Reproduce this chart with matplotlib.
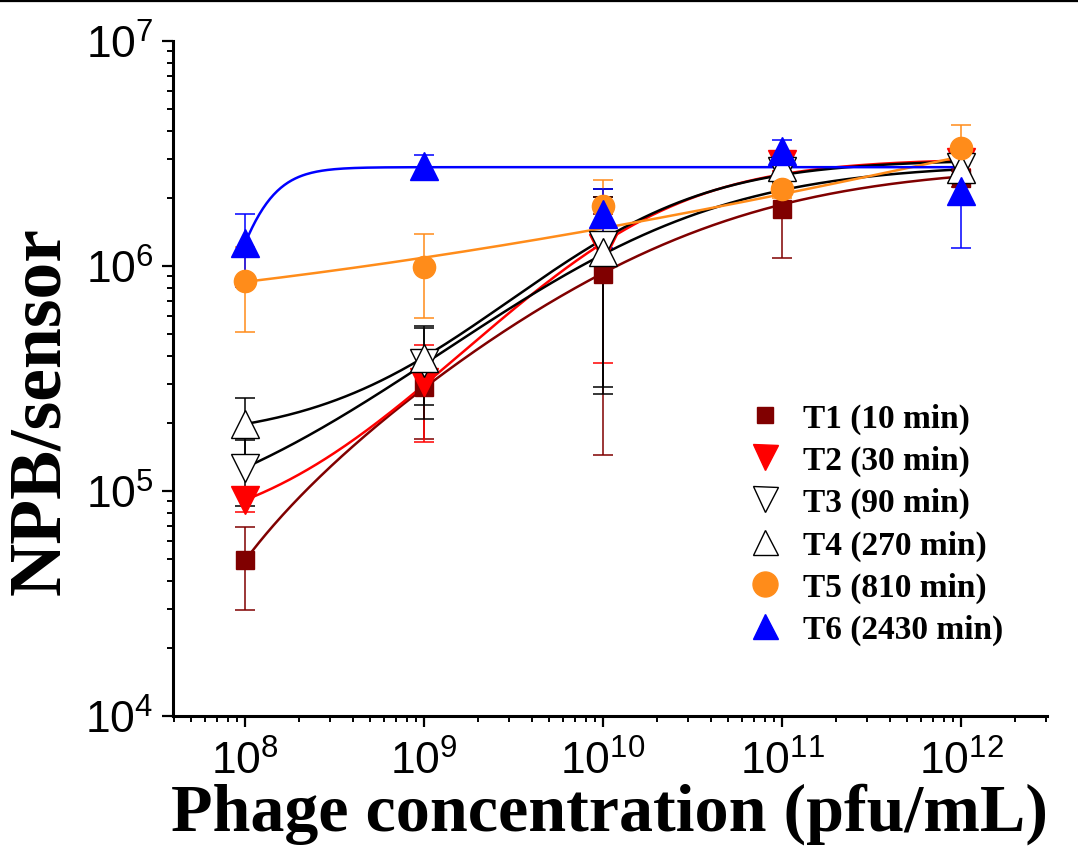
import numpy as np
import matplotlib
matplotlib.use("Agg")
import matplotlib.pyplot as plt
from matplotlib.lines import Line2D
from matplotlib.ticker import LogLocator, FuncFormatter, NullFormatter

# phage concentrations (pfu/mL)
conc = [1e8, 1e9, 1e10, 1e11, 1e12]

# NPB per sensor, mean and error for each incubation time
t1 = [4.95e4, 2.9e5, 9.25e5, 1.8e6, 2.45e6]
t1_err = [2.0e4, 1.2e5, 7.8e5, 7.2e5, 2.0e5]
t2 = [9.1e4, 3.05e5, 1.2e6, 2.85e6, 2.9e6]
t2_err = [1.0e4, 1.4e5, 8.3e5, 2.0e5, 2.0e5]
t3 = [1.27e5, 3.7e5, 1.24e6, 2.65e6, 2.75e6]
t3_err = [4.1e4, 1.6e5, 9.5e5, 3.0e5, 2.0e5]
t4 = [1.98e5, 3.9e5, 1.15e6, 2.75e6, 2.7e6]
t4_err = [6.0e4, 1.5e5, 8.8e5, 3.0e5, 2.0e5]
t5 = [8.6e5, 9.9e5, 1.85e6, 2.2e6, 3.35e6]
t5_err = [3.5e5, 4.0e5, 5.5e5, 2.0e5, 8.7e5]
t6 = [1.26e6, 2.77e6, 1.7e6, 3.25e6, 2.15e6]
t6_err = [4.5e5, 3.5e5, 5.0e5, 4.0e5, 9.5e5]

labels = ["T1 (10 min)", "T2 (30 min)", "T3 (90 min)",
          "T4 (270 min)", "T5 (810 min)", "T6 (2430 min)"]

# Hill fit parameters: start, span, K, n
fit_t1 = [-4.1e4, 2.85e6, 3e10, 0.6]
fit_t2 = [5.9e4, 2.95e6, 1.5e10, 0.9]
fit_t3 = [6.0e4, 2.8e6, 2e10, 0.7]
fit_t4 = [1.68e5, 2.8e6, 1.5e10, 0.9]
fit_t6 = [0.0, 2.75e6, 1.049e8, 3.5]
# allometric fit for T5: start, amplitude at 1e8, exponent
fit_t5 = [4.5e5, 4.0e5, 0.204]


def hill(x, p):
    y0, span, k, n = p
    return y0 + span * x**n / (k**n + x**n)


def allometric(x, p):
    y0, a, n = p
    return y0 + a * (x / 1e8)**n


serif = ["Liberation Serif", "DejaVu Serif"]
sans = ["Liberation Sans", "DejaVu Sans"]

fig = plt.figure(figsize=(10.78, 8.54), dpi=100)
ax = fig.add_axes([0.1605, 0.1604, 0.8107, 0.7904])

xs = np.logspace(8, 12, 400)

series = [
    (t1, t1_err, hill(xs, fit_t1), "s", "#800000", "#800000", 13),
    (t2, t2_err, hill(xs, fit_t2), "v", "#FF0000", "#FF0000", 20),
    (t3, t3_err, hill(xs, fit_t3), "v", "white", "black", 20),
    (t4, t4_err, hill(xs, fit_t4), "^", "white", "black", 20),
    (t5, t5_err, allometric(xs, fit_t5), "o", "#FF8C1A", "#FF8C1A", 16),
    (t6, t6_err, hill(xs, fit_t6), "^", "#0000FF", "#0000FF", 20),
]

line_colors = ["#800000", "#FF0000", "black", "black", "#FF8C1A", "#0000FF"]

handles = []
for i, (y, err, fit, mk, fc, ec, ms) in enumerate(series):
    col = line_colors[i]
    ax.errorbar(conc, y, yerr=err, fmt="none", ecolor=col, elinewidth=1.1,
                capsize=7, capthick=1.1, zorder=2 + i * 0.1)
    ax.plot(xs, fit, color=col, lw=1.8, zorder=3 + i * 0.1)
    ax.plot(conc, y, ls="none", marker=mk, ms=ms, mfc=fc, mec=ec, mew=1.0,
            zorder=4 + i * 0.1)
    handles.append(Line2D([], [], ls="none", marker=mk,
                          ms=11 if mk == "s" else 18, mfc=fc, mec=ec, mew=1.0))

ax.set_xscale("log")
ax.set_yscale("log")
ax.set_xlim(10**7.598, 10**12.48)
ax.set_ylim(1e4, 1e7)

ax.xaxis.set_major_locator(LogLocator(base=10, numticks=20))
ax.yaxis.set_major_locator(LogLocator(base=10, numticks=20))
ax.xaxis.set_minor_locator(LogLocator(base=10, subs=np.arange(2, 10), numticks=20))
ax.yaxis.set_minor_locator(LogLocator(base=10, subs=np.arange(2, 10), numticks=20))
ax.xaxis.set_minor_formatter(NullFormatter())
ax.yaxis.set_minor_formatter(NullFormatter())
fmt = FuncFormatter(lambda v, pos: r"$\mathregular{10^{%d}}$" % round(np.log10(v)))
ax.xaxis.set_major_formatter(fmt)
ax.yaxis.set_major_formatter(fmt)

for s in ["top", "right"]:
    ax.spines[s].set_visible(False)
for s in ["left", "bottom"]:
    ax.spines[s].set_linewidth(2.2)

ax.tick_params(which="major", direction="out", length=8, width=1.6)
ax.tick_params(which="minor", direction="out", length=4, width=1.4)
ax.tick_params(axis="x", which="major", pad=9)
ax.tick_params(axis="y", which="major", pad=6)
for lab in ax.get_xticklabels() + ax.get_yticklabels():
    lab.set_family(sans)
    lab.set_fontsize(32)

ax.set_xlabel("Phage concentration (pfu/mL)", family=serif, fontweight="bold",
              fontsize=49, labelpad=0)
ax.set_ylabel("NPB/sensor", family=serif, fontweight="bold", fontsize=53)
ax.yaxis.set_label_coords(-0.112, 0.453)

ax.legend(handles, labels, loc="upper left", bbox_to_anchor=(0.632, 0.489),
          frameon=False, handlelength=1.4, handletextpad=0.44,
          labelspacing=0.33, borderpad=0,
          prop={"family": serif, "weight": "bold", "size": 24})

fig.add_artist(Line2D([0, 1], [1, 1], transform=fig.transFigure,
                      color="black", lw=4.5))

fig.savefig("out.png", dpi=100)
